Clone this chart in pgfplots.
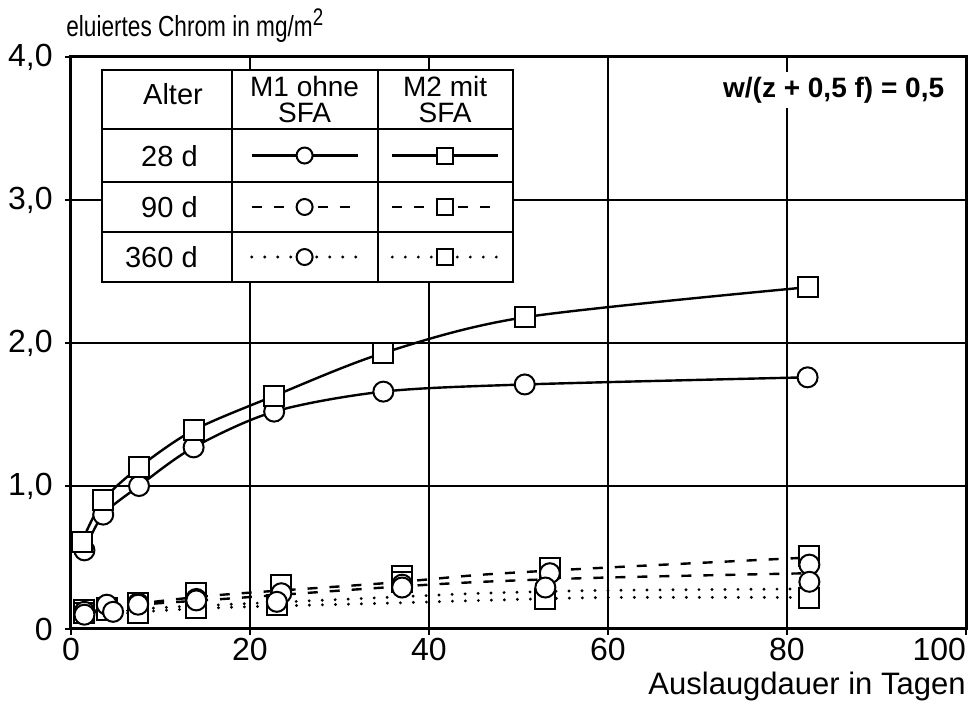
\documentclass[border=0pt]{standalone}
\usepackage{fontspec}
\setmainfont{Liberation Sans}
\usepackage{pgfplots}
\pgfplotsset{compat=1.18}
\usetikzlibrary{calc}

% line styles of the three ages
\tikzset{
  ln/.style={black, line width=1.2pt},
  dsh/.style={black, line width=1.2pt, dash pattern=on 5pt off 6pt},
  dot/.style={black, line width=1.6pt, line cap=round, dash pattern=on 0pt off 6.5pt},
  circ/.style={mark=*, mark size=5pt, mark options={solid, fill=white, draw=black, line width=1pt}},
  sq/.style={mark=square*, mark size=5pt, mark options={solid, fill=white, draw=black, line width=1pt}},
}

\begin{document}
\begin{tikzpicture}
\begin{axis}[
  width=447.5pt, height=286pt, scale only axis,
  xmin=0, xmax=100, ymin=0, ymax=4,
  xtick={0,20,...,100}, ytick={0,1,2,3,4},
  xticklabels={0,20,40,60,80,\makebox[0pt][r]{100}},
  yticklabels={0,{1,0},{2,0},{3,0},{4,0}},
  grid=major, major grid style={black, line width=1pt},
  axis line style={black, line width=1.5pt},
  tick align=outside, tick pos=left, major tick length=3pt,
  tick style={black, line width=1pt},
  ticklabel style={font=\fontsize{16}{16}\selectfont},
  /pgf/number format/assume math mode=true,
  yticklabel style={inner sep=0pt, xshift=-6pt},
  xticklabel style={inner sep=0pt, yshift=-1.5pt},
  clip=false,
]
% 28 d, solid
\addplot[ln, smooth, circ] coordinates {
  (1.5,0.55) (3.6,0.80) (7.6,1.00) (13.7,1.27) (22.7,1.52) (34.9,1.66) (50.7,1.71) (82.3,1.76)};
\addplot[ln, smooth, sq] coordinates {
  (1.2,0.61) (3.6,0.90) (7.6,1.13) (13.7,1.39) (22.7,1.63) (34.9,1.93) (50.7,2.18) (82.3,2.39)};

% 90 d / 360 d, fitted lines
\addplot[dsh, smooth] coordinates {(2,0.12) (8,0.18) (17,0.24) (35,0.32) (46,0.38) (60,0.43) (82.5,0.50)};
\addplot[dsh, smooth] coordinates {(2,0.11) (8,0.17) (17,0.21) (35,0.29) (46,0.33) (60,0.36) (82.5,0.39)};
\addplot[dot, smooth] coordinates {(2,0.09) (8,0.14) (17,0.17) (35,0.22) (46,0.25) (60,0.27) (82.5,0.28)};
\addplot[dot, smooth] coordinates {(2,0.08) (8,0.12) (17,0.15) (35,0.18) (46,0.20) (60,0.22) (82.5,0.22)};

% measured points 90 d / 360 d
\addplot[only marks, sq] coordinates {
  (1.5,0.13) (4,0.15) (7.5,0.18) (14,0.25) (23.5,0.31) (37,0.37) (53.5,0.43) (82.5,0.51)};
\addplot[only marks, sq] coordinates {
  (1.5,0.11) (4,0.13) (7.5,0.11) (14,0.15) (23,0.17) (37,0.33) (53,0.21) (82.5,0.22)};
\addplot[only marks, circ] coordinates {
  (1.5,0.12) (4,0.17) (7.5,0.18) (14,0.21) (23.5,0.25) (37,0.31) (53.5,0.39) (82.5,0.45)};
\addplot[only marks, circ] coordinates {
  (1.5,0.10) (4.7,0.12) (7.5,0.17) (14,0.20) (23,0.19) (37,0.29) (53,0.29) (82.5,0.33)};

% legend table
\draw[black, line width=1.2pt, fill=white] (axis cs:3.46,2.427) rectangle (axis cs:49.39,3.909);
\draw[black, line width=1.2pt] (axis cs:17.99,2.427) -- (axis cs:17.99,3.909)
  (axis cs:34.30,2.427) -- (axis cs:34.30,3.909)
  (axis cs:3.46,3.497) -- (axis cs:49.39,3.497)
  (axis cs:3.46,3.126) -- (axis cs:49.39,3.126)
  (axis cs:3.46,2.776) -- (axis cs:49.39,2.776);
\node[font=\fontsize{14.5}{14}\selectfont] at (axis cs:11.4,3.74) {Alter};
\node[font=\fontsize{14}{13}\selectfont, align=center, inner sep=0pt] at (axis cs:26.1,3.70) {M1 ohne\\SFA};
\node[font=\fontsize{14}{13}\selectfont, align=center, inner sep=0pt] at (axis cs:41.8,3.70) {M2 mit\\SFA};
\node[font=\fontsize{14.5}{14}\selectfont, anchor=base east, inner sep=0pt] at (axis cs:14.2,3.231) {28 d};
\node[font=\fontsize{14.5}{14}\selectfont, anchor=base east, inner sep=0pt] at (axis cs:14.2,2.881) {90 d};
\node[font=\fontsize{14.5}{14}\selectfont, anchor=base east, inner sep=0pt] at (axis cs:14.2,2.531) {360 d};

\addplot[ln, circ, mark size=4pt, mark indices={2}, forget plot] coordinates {(20.2,3.311) (26.1,3.311) (32.1,3.311)};
\addplot[ln, sq, mark size=4pt, mark indices={2}, forget plot] coordinates {(35.9,3.311) (41.8,3.311) (47.7,3.311)};
\addplot[dsh, circ, mark size=4pt, mark indices={2}, forget plot] coordinates {(20.2,2.951) (26.1,2.951) (32.1,2.951)};
\addplot[dsh, sq, mark size=4pt, mark indices={2}, forget plot] coordinates {(35.9,2.951) (41.8,2.951) (47.7,2.951)};
\addplot[dot, circ, mark size=4pt, mark indices={2}, forget plot] coordinates {(20.2,2.601) (26.1,2.601) (32.1,2.601)};
\addplot[dot, sq, mark size=4pt, mark indices={2}, forget plot] coordinates {(35.9,2.601) (41.8,2.601) (47.7,2.601)};

\node[font=\bfseries\fontsize{14}{14}\selectfont, anchor=base east, inner sep=2.5pt, fill=white, xshift=2.5pt] at (axis cs:97.6,3.72) {w/(z + 0,5 f) = 0,5};

% axis titles
\node[anchor=base west, inner sep=0pt] at ($(rel axis cs:0,1)+(-2.5pt,10pt)$)
  {\scalebox{0.78}[1]{\fontsize{14.5}{14}\selectfont eluiertes Chrom in mg/m\raisebox{0.75ex}{\fontsize{12}{12}\selectfont 2}}};
\node[font=\fontsize{15.5}{15}\selectfont, anchor=base east, inner sep=0pt] at ($(rel axis cs:1,0)+(0,-33pt)$) {Auslaugdauer in Tagen};

\coordinate (SW) at (rel axis cs:0,0);
\coordinate (NE) at (rel axis cs:1,1);
\end{axis}
\pgfresetboundingbox
\path ($(SW)+(-35.5pt,-38pt)$) rectangle ($(NE)+(2pt,28.5pt)$);
\end{tikzpicture}
\end{document}
